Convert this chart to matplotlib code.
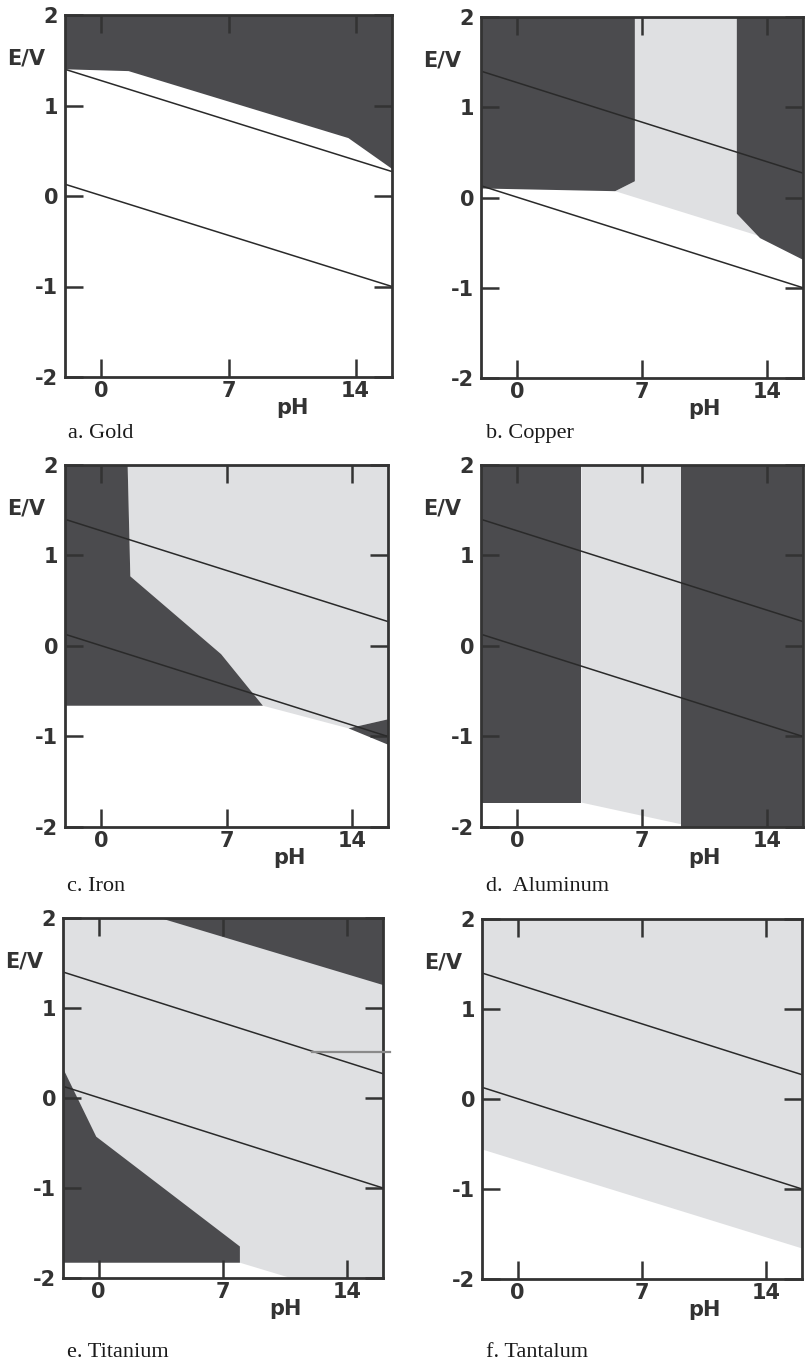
import matplotlib
matplotlib.use("Agg")
import matplotlib.pyplot as plt

# ---------------------------------------------------------------------------
# data (pH, E/V)
# ---------------------------------------------------------------------------
WATER_PH = [-2, 16]
O2_E = [1.40, 0.27]
H2_E = [0.13, -1.00]

X_TICKS = [0, 7, 14]
Y_TICKS = [-2, -1, 0, 1, 2]

# a. Gold
GOLD_DARK_PH = [-2, 16, 16, 13.6, 1.5, -2]
GOLD_DARK_E = [2, 2, 0.30, 0.64, 1.38, 1.40]

# b. Copper
COPPER_LIGHT_PH = [5.5, 6.6, 6.6, 12.3, 12.3, 13.6]
COPPER_LIGHT_E = [0.07, 0.18, 2, 2, -0.18, -0.43]
COPPER_DARK1_PH = [-2, 6.6, 6.6, 5.5, -2]
COPPER_DARK1_E = [2, 2, 0.18, 0.07, 0.10]
COPPER_DARK2_PH = [12.3, 16, 16, 13.6, 12.3]
COPPER_DARK2_E = [2, 2, -0.69, -0.45, -0.18]

# c. Iron
IRON_LIGHT_PH = [1.49, 16, 16, 13.8, 9.03, 6.7, 1.64]
IRON_LIGHT_E = [2, 2, -0.81, -0.91, -0.66, -0.09, 0.77]
IRON_DARK1_PH = [-2, 1.49, 1.64, 6.7, 9.03, -2]
IRON_DARK1_E = [2, 2, 0.77, -0.09, -0.66, -0.66]
IRON_DARK2_PH = [13.8, 16, 16]
IRON_DARK2_E = [-0.91, -0.81, -1.09]

# d. Aluminum
AL_DARK1_PH = [-2, 3.61, 3.61, -2]
AL_DARK1_E = [2, 2, -1.73, -1.73]
AL_LIGHT_PH = [3.61, 9.2, 9.2, 3.61]
AL_LIGHT_E = [2, 2, -1.97, -1.73]
AL_DARK2_PH = [9.2, 16, 16, 9.2]
AL_DARK2_E = [2, 2, -2, -2]

# e. Titanium
TI_LIGHT_PH = [-2, 16, 16, 10.8, 7.95, -2]
TI_LIGHT_E = [2, 2, -2, -2, -1.83, -1.83]
TI_DARK1_PH = [3.44, 16, 16]
TI_DARK1_E = [2, 2, 1.26]
TI_DARK2_PH = [-2, -0.13, 7.95, 7.95, -2]
TI_DARK2_E = [0.33, -0.43, -1.65, -1.83, -1.83]
TI_MARK_PH = [12.0, 16.4]
TI_MARK_E = [0.51, 0.51]

# f. Tantalum
TA_LIGHT_PH = [-2, 16, 16, -2]
TA_LIGHT_E = [2, 2, -1.66, -0.56]

CAPTIONS = ["a. Gold", "b. Copper", "c. Iron", "d.  Aluminum",
            "e. Titanium", "f. Tantalum"]

# ---------------------------------------------------------------------------
DARK = "#4b4b4e"
LIGHT = "#dfe0e2"
INK = "#333333"

W, H = 805, 1362
# axes boxes in pixels: left, top, right, bottom
BOXES = [
    (65, 15, 392, 377),
    (481, 17, 803, 378),
    (65, 465, 388, 827),
    (481, 465, 803, 827),
    (63, 918, 383, 1278),
    (482, 919, 802, 1279),
]
CAPTION_XY = [(68, 438), (486, 438), (67, 891), (486, 891),
              (67, 1357), (486, 1357)]

fig = plt.figure(figsize=(W / 100, H / 100), dpi=100)
fig.patch.set_facecolor("white")

axes = []
for (l, t, r, b) in BOXES:
    ax = fig.add_axes([l / W, 1 - b / H, (r - l) / W, (b - t) / H])
    axes.append(ax)


def style(ax):
    ax.set_xlim(-2, 16)
    ax.set_ylim(-2, 2)
    ax.set_facecolor("white")
    ax.set_xticks(X_TICKS)
    ax.set_yticks(Y_TICKS)
    ax.set_yticklabels([str(v) for v in Y_TICKS])
    ax.tick_params(axis="both", direction="in", length=13, width=1.8,
                   color=INK, labelsize=15, labelcolor=INK)
    ax.tick_params(axis="x", top=True, pad=3)
    ax.tick_params(axis="y", right=True, pad=5)
    for lab in ax.get_xticklabels() + ax.get_yticklabels():
        lab.set_fontweight("bold")
    for sp in ax.spines.values():
        sp.set_linewidth(2.0)
        sp.set_color(INK)
        sp.set_zorder(5)
    ax.plot(WATER_PH, O2_E, color="#2a2a2a", lw=1.1, zorder=3)
    ax.plot(WATER_PH, H2_E, color="#2a2a2a", lw=1.1, zorder=3)
    ax.text(-0.12, 1.52, "E/V", transform=ax.get_yaxis_transform(),
            ha="center", va="center", fontsize=15, fontweight="bold",
            color=INK)
    ax.annotate("pH", xy=(10.5, 0), xycoords=("data", "axes fraction"),
                xytext=(0, -22), textcoords="offset points",
                ha="center", va="center", fontsize=15, fontweight="bold",
                color=INK)


def region(ax, ph, e, color):
    ax.fill(ph, e, color=color, lw=0, zorder=1)


ax = axes[0]
region(ax, GOLD_DARK_PH, GOLD_DARK_E, DARK)

ax = axes[1]
region(ax, COPPER_LIGHT_PH, COPPER_LIGHT_E, LIGHT)
region(ax, COPPER_DARK1_PH, COPPER_DARK1_E, DARK)
region(ax, COPPER_DARK2_PH, COPPER_DARK2_E, DARK)

ax = axes[2]
region(ax, IRON_LIGHT_PH, IRON_LIGHT_E, LIGHT)
region(ax, IRON_DARK1_PH, IRON_DARK1_E, DARK)
region(ax, IRON_DARK2_PH, IRON_DARK2_E, DARK)

ax = axes[3]
region(ax, AL_DARK1_PH, AL_DARK1_E, DARK)
region(ax, AL_LIGHT_PH, AL_LIGHT_E, LIGHT)
region(ax, AL_DARK2_PH, AL_DARK2_E, DARK)

ax = axes[4]
region(ax, TI_LIGHT_PH, TI_LIGHT_E, LIGHT)
region(ax, TI_DARK1_PH, TI_DARK1_E, DARK)
region(ax, TI_DARK2_PH, TI_DARK2_E, DARK)
ax.plot(TI_MARK_PH, TI_MARK_E, color="#8a8a8a", lw=1.6, zorder=6,
        clip_on=False)

ax = axes[5]
region(ax, TA_LIGHT_PH, TA_LIGHT_E, LIGHT)

for ax in axes:
    style(ax)

for (cx, cy), cap in zip(CAPTION_XY, CAPTIONS):
    fig.text(cx / W, 1 - cy / H, cap, ha="left", va="baseline",
             fontsize=16, family="Liberation Serif", color="#1a1a1a")

fig.savefig("out.png", dpi=100)
